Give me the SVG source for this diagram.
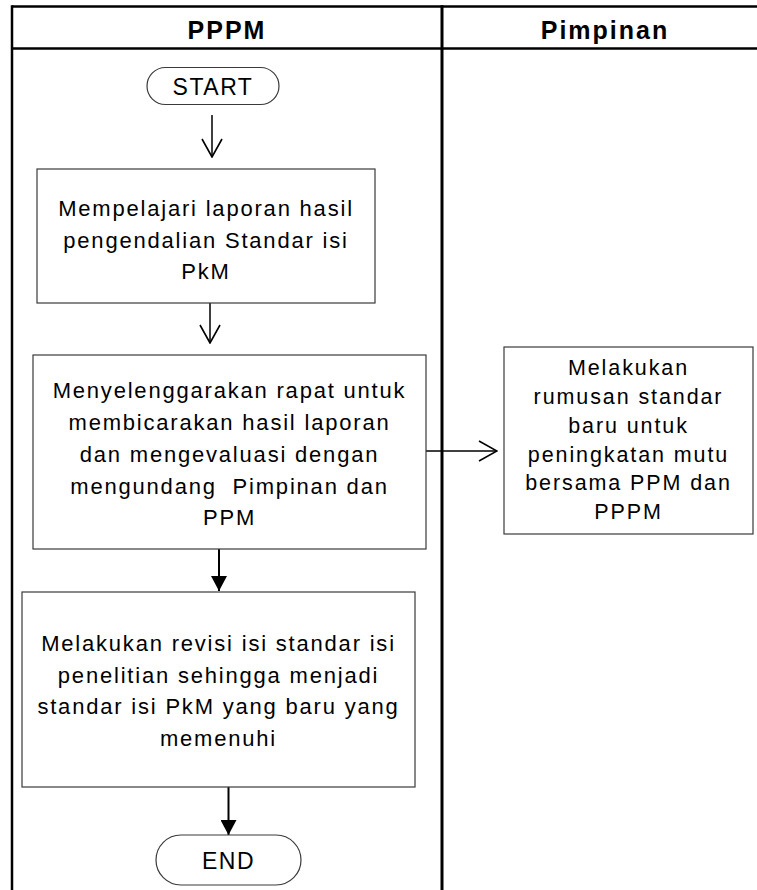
<svg xmlns="http://www.w3.org/2000/svg" width="757" height="890" viewBox="0 0 757 890">
<style>
.lane{stroke:#000;stroke-width:2.5;fill:none}
.hdr{font-family:"Liberation Sans",Arial,sans-serif;font-weight:bold;font-size:25px;letter-spacing:2px;text-anchor:middle;fill:#000}
.box{fill:#fff;stroke:#3a3a3a;stroke-width:1.2}
.term{fill:#fff;stroke:#3a3a3a;stroke-width:1.2}
.t{font-family:"Liberation Sans",Arial,sans-serif;font-size:22px;letter-spacing:1.8px;text-anchor:middle;fill:#000;white-space:pre}
.ts{font-family:"Liberation Sans",Arial,sans-serif;font-size:21.5px;letter-spacing:1.9px;text-anchor:middle;fill:#000}
.tt{font-family:"Liberation Sans",Arial,sans-serif;font-size:23px;letter-spacing:1.5px;text-anchor:middle;fill:#000}
.thin{stroke:#000;stroke-width:1.5;fill:none}
.thick{stroke:#000;stroke-width:2;fill:none}
</style>
<defs>
<marker id="open" markerUnits="userSpaceOnUse" viewBox="0 0 20 22" refX="19" refY="11" markerWidth="20" markerHeight="22" orient="auto">
<path d="M1,1 L19,11 L1,21" fill="none" stroke="#000" stroke-width="1.6"/>
</marker>
<marker id="filled" markerUnits="userSpaceOnUse" viewBox="0 0 15 16" refX="15" refY="8" markerWidth="15" markerHeight="16" orient="auto">
<path d="M0,0 L15,8 L0,16 z" fill="#000"/>
</marker>
</defs>
<rect width="757" height="890" fill="#fff"/>
<g id="lanes">
<line class="lane" x1="12" y1="6.5" x2="757" y2="6.5"/>
<line class="lane" x1="12" y1="48.5" x2="757" y2="48.5"/>
<line class="lane" x1="12" y1="5.3" x2="12" y2="890"/>
<line class="lane" x1="442" y1="5.3" x2="442" y2="890" style="stroke-width:3"/>
<text class="hdr" x="227" y="38.5">PPPM</text>
<text class="hdr" x="605" y="38.5">Pimpinan</text>
</g>
<g id="connectors">
<line class="thin" x1="212" y1="115" x2="212" y2="157" marker-end="url(#open)"/>
<line class="thin" x1="210" y1="303" x2="210" y2="343" marker-end="url(#open)"/>
<line class="thin" x1="419" y1="451" x2="497" y2="451" marker-end="url(#open)"/>
<line class="thick" x1="219" y1="549" x2="219" y2="591" marker-end="url(#filled)"/>
<line class="thick" x1="228.5" y1="787" x2="228.5" y2="835" marker-end="url(#filled)"/>
</g>
<g id="start">
<rect class="term" x="147" y="67.5" width="132" height="37" rx="18.5"/>
<text class="tt" x="213" y="94.5">START</text>
</g>
<g id="step1">
<rect class="box" x="37" y="169" width="338" height="134"/>
<text class="t" x="206" y="216">Mempelajari laporan hasil</text>
<text class="t" x="206" y="247.5">pengendalian Standar isi</text>
<text class="t" x="206" y="279">PkM</text>
</g>
<g id="step2">
<rect class="box" x="33" y="355" width="393" height="194"/>
<text class="t" x="229.5" y="398">Menyelenggarakan rapat untuk</text>
<text class="t" x="229.5" y="430">membicarakan hasil laporan</text>
<text class="t" x="229.5" y="462">dan mengevaluasi dengan</text>
<text class="t" x="229.5" y="493.5">mengundang  Pimpinan dan</text>
<text class="t" x="229.5" y="525">PPM</text>
</g>
<g id="step-pimpinan">
<rect class="box" x="504" y="347" width="249" height="187"/>
<text class="ts" x="628.5" y="374.5">Melakukan</text>
<text class="ts" x="628.5" y="403.5">rumusan standar</text>
<text class="ts" x="628.5" y="432.5">baru untuk</text>
<text class="ts" x="628.5" y="461.5">peningkatan mutu</text>
<text class="ts" x="628.5" y="490">bersama PPM dan</text>
<text class="ts" x="628.5" y="519">PPPM</text>
</g>
<g id="step3">
<rect class="box" x="22" y="592" width="393" height="195"/>
<text class="t" x="218.5" y="651">Melakukan revisi isi standar isi</text>
<text class="t" x="218.5" y="682.5">penelitian sehingga menjadi</text>
<text class="t" x="218.5" y="714">standar isi PkM yang baru yang</text>
<text class="t" x="218.5" y="746">memenuhi</text>
</g>
<g id="end">
<rect class="term" x="156" y="835" width="145" height="50" rx="25"/>
<text class="tt" x="228.5" y="869">END</text>
</g>
</svg>
